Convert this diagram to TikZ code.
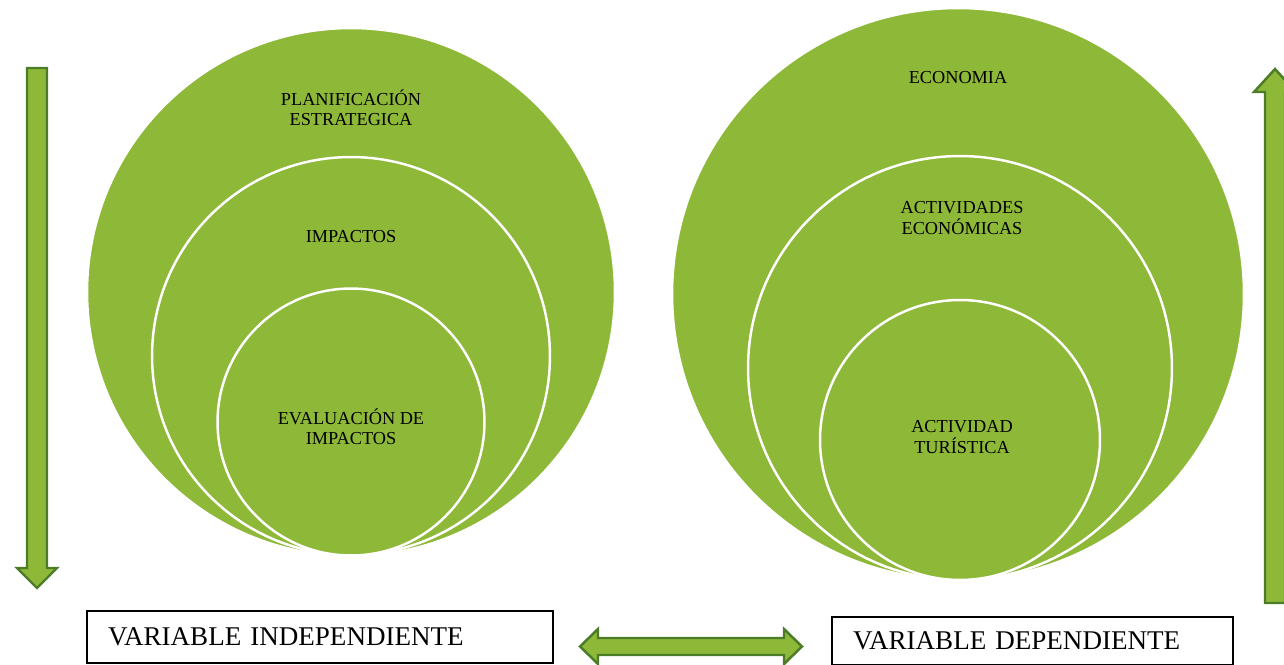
\documentclass[tikz,border=0pt]{standalone}
\usepackage{fontspec}
\setmainfont{Liberation Serif}
\usepackage{xcolor}
\usepackage{tikz}
\usetikzlibrary{calc}
\definecolor{leafgreen}{RGB}{141,184,56}
\definecolor{darkleaf}{RGB}{76,124,40}

\begin{document}
\begin{tikzpicture}[x=0.02cm,y=-0.02cm,
	ring/.style={circle,draw=white,line width=1.4pt,fill=leafgreen,inner sep=0pt},
	tag/.style={align=center,font=\fontsize{10.4}{11.5}\selectfont,inner sep=0pt},
	varbox/.style={draw,line width=0.8pt,inner xsep=0.42cm,inner ysep=0pt,align=left,font=\fontsize{15.4}{17}\selectfont},
	blockarrow/.style={fill=leafgreen,draw=darkleaf,line width=1.4pt,line join=miter}]
							\useasboundingbox (0,0) rectangle (1284,665);
							\clip (0,0) rectangle (1284,665);
							
							\node[ring,minimum size=10.56cm] (L1) at (351,292) {};
							\node[ring,minimum size=7.96cm] (L2) at (351,356) {};
							\node[ring,minimum size=5.34cm] (L3) at (351,422) {};
							
							\node[ring,minimum size=11.44cm] (R1) at (958,294) {};
							\node[ring,minimum size=8.48cm] (R2) at (960,368) {};
							\node[ring,minimum size=5.60cm] (R3) at (960,440) {};
							
							\node[tag] (plan) at (351,108) {PLANIFICACIÓN\\ESTRATEGICA};
							\node[tag] (imp) at (351,237) {IMPACTOS};
							\node[tag] (eval) at (351,427) {EVALUACIÓN DE\\IMPACTOS};
							
							\node[tag] (eco) at (958,78) {ECONOMIA};
							\node[tag] (act) at (962,218) {ACTIVIDADES\\ECONÓMICAS};
							\node[tag] (tur) at (962,437) {ACTIVIDAD\\TURÍSTICA};
							
							\node[varbox,text width=8.48cm,minimum height=1.04cm] (indep) at (320,637) {VARIABLE INDEPENDIENTE};
							\node[varbox,text width=7.18cm,minimum height=0.96cm] (dep) at (1032.5,641) {VARIABLE DEPENDIENTE};
							
							\coordinate (D) at (37,68);
							\coordinate (U) at (1275,603);
							\coordinate (M) at (691,646.5);
							
							\draw[blockarrow] ($(D)+(-10,0)$) -- ++(20,0) -- ++(0,500) -- ++(10,0) -- ($(D)+(0,520)$) -- ($(D)+(-20,500)$) -- ++(10,0) -- cycle;
							\draw[blockarrow] ($(U)+(-10,0)$) -- ++(0,-511) -- ++(-11,0) -- ($(U)+(0,-534)$) -- ++(21,23) -- ++(-11,0) -- ++(0,511) -- cycle;
							\draw[blockarrow] ($(M)+(-111,0)$) -- ++(18,-17.5) -- ++(0,9) -- ++(186,0) -- ++(0,-9) -- ($(M)+(111,0)$) -- ++(-18,17.5) -- ++(0,-9) -- ++(-186,0) -- ++(0,9) -- cycle;
						\end{tikzpicture}
\end{document}
